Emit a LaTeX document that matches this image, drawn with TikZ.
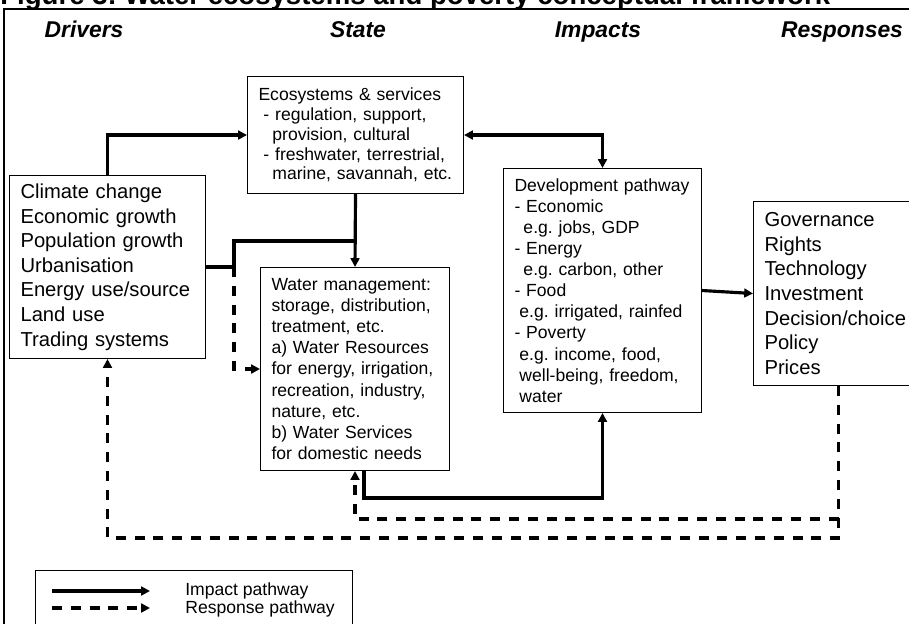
\documentclass[tikz,border=0pt]{standalone}
\usepackage{fontspec}
\setmainfont{Liberation Sans}
\usetikzlibrary{calc, arrows.meta}
\frenchspacing

\tikzset{
  pathtip/.tip={Triangle[length=5pt,width=5pt]},
  panel/.style={draw, line width=0.6pt, anchor=north west, align=left, inner xsep=0.22cm, inner ysep=0pt},
  bigtext/.style={font=\fontsize{11.5}{14}\selectfont},
  smalltext/.style={font=\fontsize{10}{12}\selectfont},
  header/.style={anchor=base, inner sep=0pt, font=\fontsize{13}{15}\selectfont\bfseries\itshape},
  impact/.style={line width=1.8pt, -{pathtip}},
  response/.style={line width=1.8pt, dash pattern=on 5.7pt off 5pt, -{pathtip}},
}

\begin{document}
\begin{tikzpicture}[x=0.02cm, y=-0.02cm]
	\useasboundingbox (0,0) rectangle (909,623);
	
	\node [anchor=base west, inner sep=0pt, font=\fontsize{15.7}{18}\selectfont\bfseries] (title) at (0,4.5) {Figure 3: Water ecosystems and poverty conceptual framework};
	\draw [line width=1.2pt] (4,640) -- (4,9) -- (920,9);
	
	\node [header] (hdrivers) at (84,37) {Drivers};
	\node [header] (hstate) at (358,37) {State};
	\node [header] (himpacts) at (598,37) {Impacts};
	\node [header] (hresponses) at (842,37) {Responses};
	
	\node [panel, font=\fontsize{10}{11.3}\selectfont, text width=3.88cm, minimum height=2.34cm] (eco) at (247,76) {Ecosystems \& services\\ \hspace*{2.8pt}- regulation, support,\\ \hspace*{7.9pt}provision, cultural\\ \hspace*{2.8pt}- freshwater, terrestrial,\\ \hspace*{7.9pt}marine, savannah, etc.};
	\node [panel, bigtext, text width=3.48cm, minimum height=3.66cm] (drivers) at (9,175) {Climate change\\ Economic growth\\ Population growth\\ Urbanisation\\ Energy use/source\\ Land use\\ Trading systems};
	\node [panel, smalltext, text width=3.34cm, minimum height=4.06cm] (water) at (260,267) {Water management:\\ storage, distribution,\\ treatment, etc.\\ a) Water Resources\\ for energy, irrigation,\\ recreation, industry,\\ nature, etc.\\ b) Water Services\\ for domestic needs};
	\node [panel, smalltext, text width=3.52cm, minimum height=4.88cm] (devel) at (503,168) {Development pathway\\ - Economic\\ \hspace*{5.1pt}e.g. jobs, GDP\\ - Energy\\ \hspace*{5.1pt}e.g. carbon, other\\ - Food\\ \hspace*{2.8pt}e.g. irrigated, rainfed\\ - Poverty\\ \hspace*{2.8pt}e.g. income, food,\\ \hspace*{2.8pt}well-being, freedom,\\ \hspace*{2.8pt}water};
	\node [panel, bigtext, text width=2.96cm, minimum height=3.68cm] (resp) at (753,201) {Governance\\ Rights\\ Technology\\ Investment\\ Decision/choice\\ Policy\\ Prices};
	
	% impact pathway
	\coordinate (split) at ($(drivers.east)+(28,0)$);
	\coordinate (join) at ($(eco.south)+(0,47)$);
	\draw [impact] (drivers.north) |- (eco.west);
	\draw [impact, {pathtip}-{pathtip}] (eco.east) -| (devel.north);
	\draw [impact] (eco.south) -- (water.north);
	\draw [impact, -] (drivers.east) -- (split) |- (join);
	\draw [impact] ([xshift=0.18cm]water.south) -- ++(0,27) -| (devel.south);
	\draw [impact] (devel.east) -- (resp.west);
	
	% response pathway
	\coordinate (branch) at ($(resp.south)+(0,133)$);
	\draw [response] (split) |- (water.west);
	\draw [response] (resp.south) -- ++(0,152) -| (drivers.south);
	\draw [response] (branch) -| (water.south);
	
	% legend
	\node [draw, line width=0.6pt, anchor=north west, minimum width=6.34cm, minimum height=1.4cm] (legend) at (35,570) {};
	\node [smalltext, anchor=west, inner sep=0pt] (implabel) at (185,591) {Impact pathway};
	\node [smalltext, anchor=west, inner sep=0pt] (resplabel) at (185,609) {Response pathway};
	\coordinate (impfrom) at (52,591);
	\coordinate (impto) at (150,591);
	\coordinate (respfrom) at (52,608);
	\coordinate (respto) at (150,608);
	\draw [impact] (impfrom) -- (impto);
	\draw [response] (respfrom) -- (respto);
	
\end{tikzpicture}
\end{document}
